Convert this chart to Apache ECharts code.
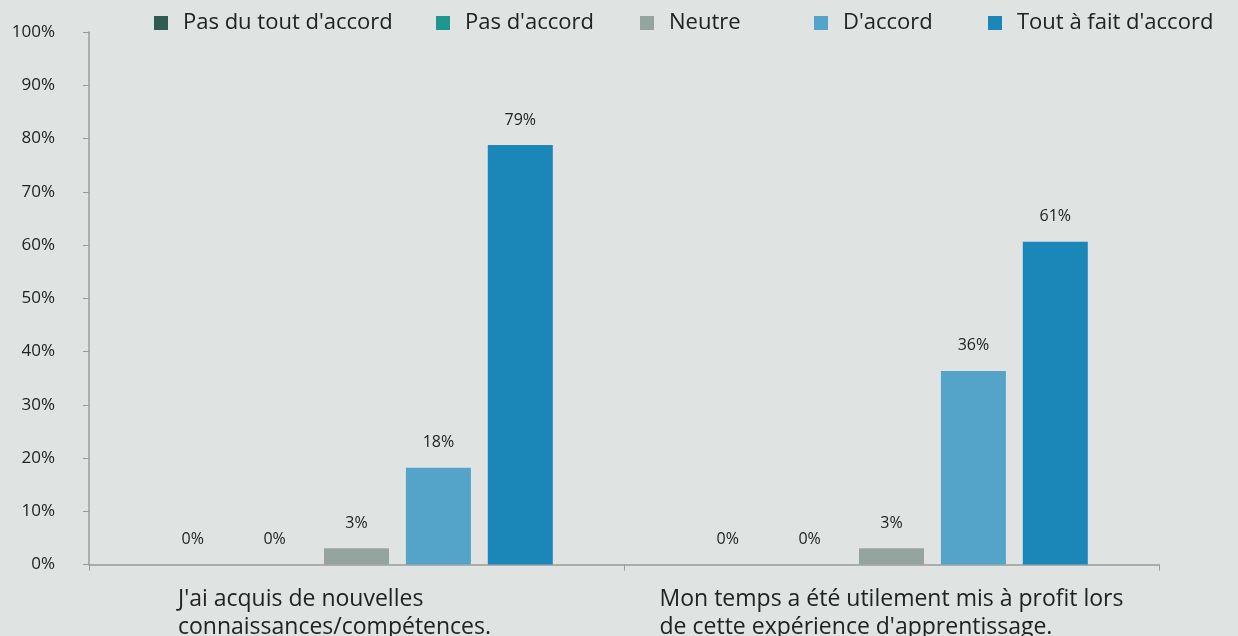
<!DOCTYPE html>
<html>
<head>
<meta charset="utf-8">
<style>
  html, body { margin: 0; padding: 0; background: #dfe3e2; }
  #chart { width: 1238px; height: 636px; }
</style>
<script src="https://cdn.jsdelivr.net/npm/echarts@6/dist/echarts.min.js"></script>
</head>
<body>
<div id="chart"></div>
<script>
// Survey statements (x axis), two lines each
const statements = [
  "J'ai acquis de nouvelles\nconnaissances/compétences.",
  "Mon temps a été utilement mis à profit lors\nde cette expérience d'apprentissage."
];

// Answer scale (legend order)
const answers = ["Pas du tout d'accord", "Pas d'accord", "Neutre", "D'accord", "Tout à fait d'accord"];

// Share of respondents (%) per answer, one value per statement
const pasDuToutDAccord = [0, 0];
const pasDAccord = [0, 0];
const neutre = [3.03, 3.03];
const dAccord = [18.18, 36.36];
const toutAFaitDAccord = [78.79, 60.61];

// Y axis range and step (%)
const yMin = 0, yMax = 100, yStep = 10;

const seriesValues = [pasDuToutDAccord, pasDAccord, neutre, dAccord, toutAFaitDAccord];
const colors = ['#2f5b51', '#20978e', '#96a4a0', '#54a3c9', '#1b87b8'];

// Layout: left edge of each legend entry, horizontal nudge of each axis label block
const legendX = [154, 436, 640, 814, 988];
const labelNudge = [-22, 0];

const FONT = 'Open Sans';
const TEXT = '#222222';
const AXIS = '#9b9b9b';

const chart = echarts.init(document.getElementById('chart'), null, { renderer: 'canvas' });

chart.setOption({
  backgroundColor: '#dfe3e2',
  textStyle: { fontFamily: FONT, color: TEXT },
  legend: answers.map((name, i) => ({
    data: [name],
    left: legendX[i],
    top: 12,
    padding: 0,
    icon: 'rect',
    itemWidth: 14,
    itemHeight: 14,
    textStyle: { fontFamily: FONT, fontSize: 22, color: TEXT, padding: [0, 0, 0, 10] }
  })),
  grid: { left: 89, right: 79, top: 32, bottom: 71.5, containLabel: false, outerBoundsMode: 'none' },
  xAxis: {
    type: 'category',
    data: statements.map((s, i) => ({
      value: s,
      textStyle: {
        padding: labelNudge[i] < 0 ? [0, -2 * labelNudge[i], 0, 0] : [0, 0, 0, 2 * labelNudge[i]]
      }
    })),
    axisLine: { lineStyle: { color: AXIS, width: 1.5 } },
    axisTick: { show: true, length: 6, lineStyle: { color: AXIS } },
    axisLabel: {
      margin: 21,
      align: 'center',
      formatter: v => v.split('\n').map(s => '{a|' + s + '}').join('\n'),
      rich: { a: { align: 'left', fontFamily: FONT, fontSize: 23, lineHeight: 28, color: TEXT } }
    }
  },
  yAxis: {
    type: 'value',
    min: yMin,
    max: yMax,
    interval: yStep,
    axisLine: { show: true, lineStyle: { color: AXIS, width: 1.5 } },
    axisTick: { show: true, length: 6, lineStyle: { color: AXIS } },
    splitLine: { show: false },
    axisLabel: {
      margin: 34,
      fontFamily: FONT,
      fontSize: 17,
      color: TEXT,
      formatter: '{value}%'
    }
  },
  series: answers.map((name, i) => ({
    name,
    type: 'bar',
    data: seriesValues[i],
    barWidth: 65,
    barGap: '26%',
    itemStyle: { color: colors[i] },
    label: {
      show: true,
      position: 'top',
      distance: 17,
      fontFamily: FONT,
      fontSize: 16,
      color: TEXT,
      formatter: p => Math.round(p.value) + '%'
    }
  }))
});
</script>
</body>
</html>
